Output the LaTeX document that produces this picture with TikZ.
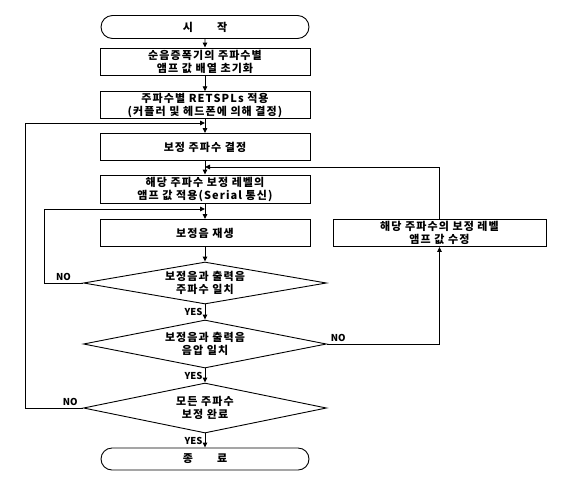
\documentclass[tikz,border=0pt]{standalone}
\usepackage{fontspec}
\setmainfont{Noto Sans CJK KR}[LetterSpace=10]
\usetikzlibrary{shapes.geometric,shapes.misc,arrows.meta}

\begin{document}
\begin{tikzpicture}[x=1pt,y=-1pt,
    font=\fontsize{11}{13}\selectfont\bfseries,
    every path/.style={line width=0.9pt},
    proc/.style={draw, rectangle, minimum width=210pt, minimum height=27pt, inner sep=1pt, align=center},
    term/.style={draw, rounded rectangle, minimum width=210pt, minimum height=23pt, inner sep=1pt},
    test/.style={draw, diamond, aspect=5.06, minimum width=243pt, minimum height=46pt, inner sep=0pt, align=center},
    lbl/.style={font=\fontsize{9.5}{11}\selectfont\bfseries\addfontfeature{LetterSpace=0}, inner sep=2pt},
    arr/.style={-{Triangle[length=5pt,width=4.5pt]}}]
  \useasboundingbox (0,0) rectangle (564,480);
  % main column
  \draw
    (205,27) node[term] (start) {시\hspace{2.2em}작}
    (205,61.5) node[proc] (init) {순음증폭기의 주파수별\\앰프 값 배열 초기화}
    (205,105) node[proc, minimum height=26pt] (rets) {주파수별 RETSPLs 적용\\(커플러 및 헤드폰에 의해 결정)}
    (205,147) node[proc] (freq) {보정 주파수 결정}
    (205,189) node[proc, minimum height=28pt] (apply) {해당 주파수 보정 레벨의\\앰프 값 적용(Serial 통신)}
    (205,233) node[proc] (play) {보정음 재생}
    (439.5,233) node[proc, minimum width=213pt] (fix) {해당 주파수의 보정 레벨\\앰프 값 수정}
    (205,283) node[test, minimum height=42pt] (chk1) {보정음과 출력음\\주파수 일치}
    (205,344) node[test, minimum height=48pt] (chk2) {보정음과 출력음\\음압 일치}
    (205,408) node[test, minimum height=50pt] (chk3) {모든 주파수\\보정 완료}
    (205,459) node[term, minimum height=22pt] (end) {종\hspace{2.2em}료};
  \coordinate (mergeA) at (205,123);
  \coordinate (mergeB) at (205,167);
  \coordinate (mergeC) at (205,209);
  \begin{scope}[arr]
    \draw (start) -- (init);
    \draw (init) -- (rets);
    \draw (rets) -- (freq);
    \draw (freq) -- (apply);
    \draw (apply) -- (play);
    \draw (play) -- (chk1);
    \draw (chk1) -- node[lbl, left] {YES} (chk2);
    \draw (chk2) -- node[lbl, left] {YES} (chk3);
    \draw (chk3) -- node[lbl, left] {YES} (end);
    \draw (chk1.west) -- node[lbl, above] {NO} ++(-39,0) |- (mergeC);
    \draw (chk2.east) -- node[lbl, above, pos=0.1] {NO} (fix.south |- chk2.east) -- (fix.south);
    \draw (fix.north) |- (mergeB);
    \draw (chk3.west) -- node[lbl, above, pos=0.22] {NO} ++(-58,0) |- (mergeA);
  \end{scope}
\end{tikzpicture}
\end{document}
